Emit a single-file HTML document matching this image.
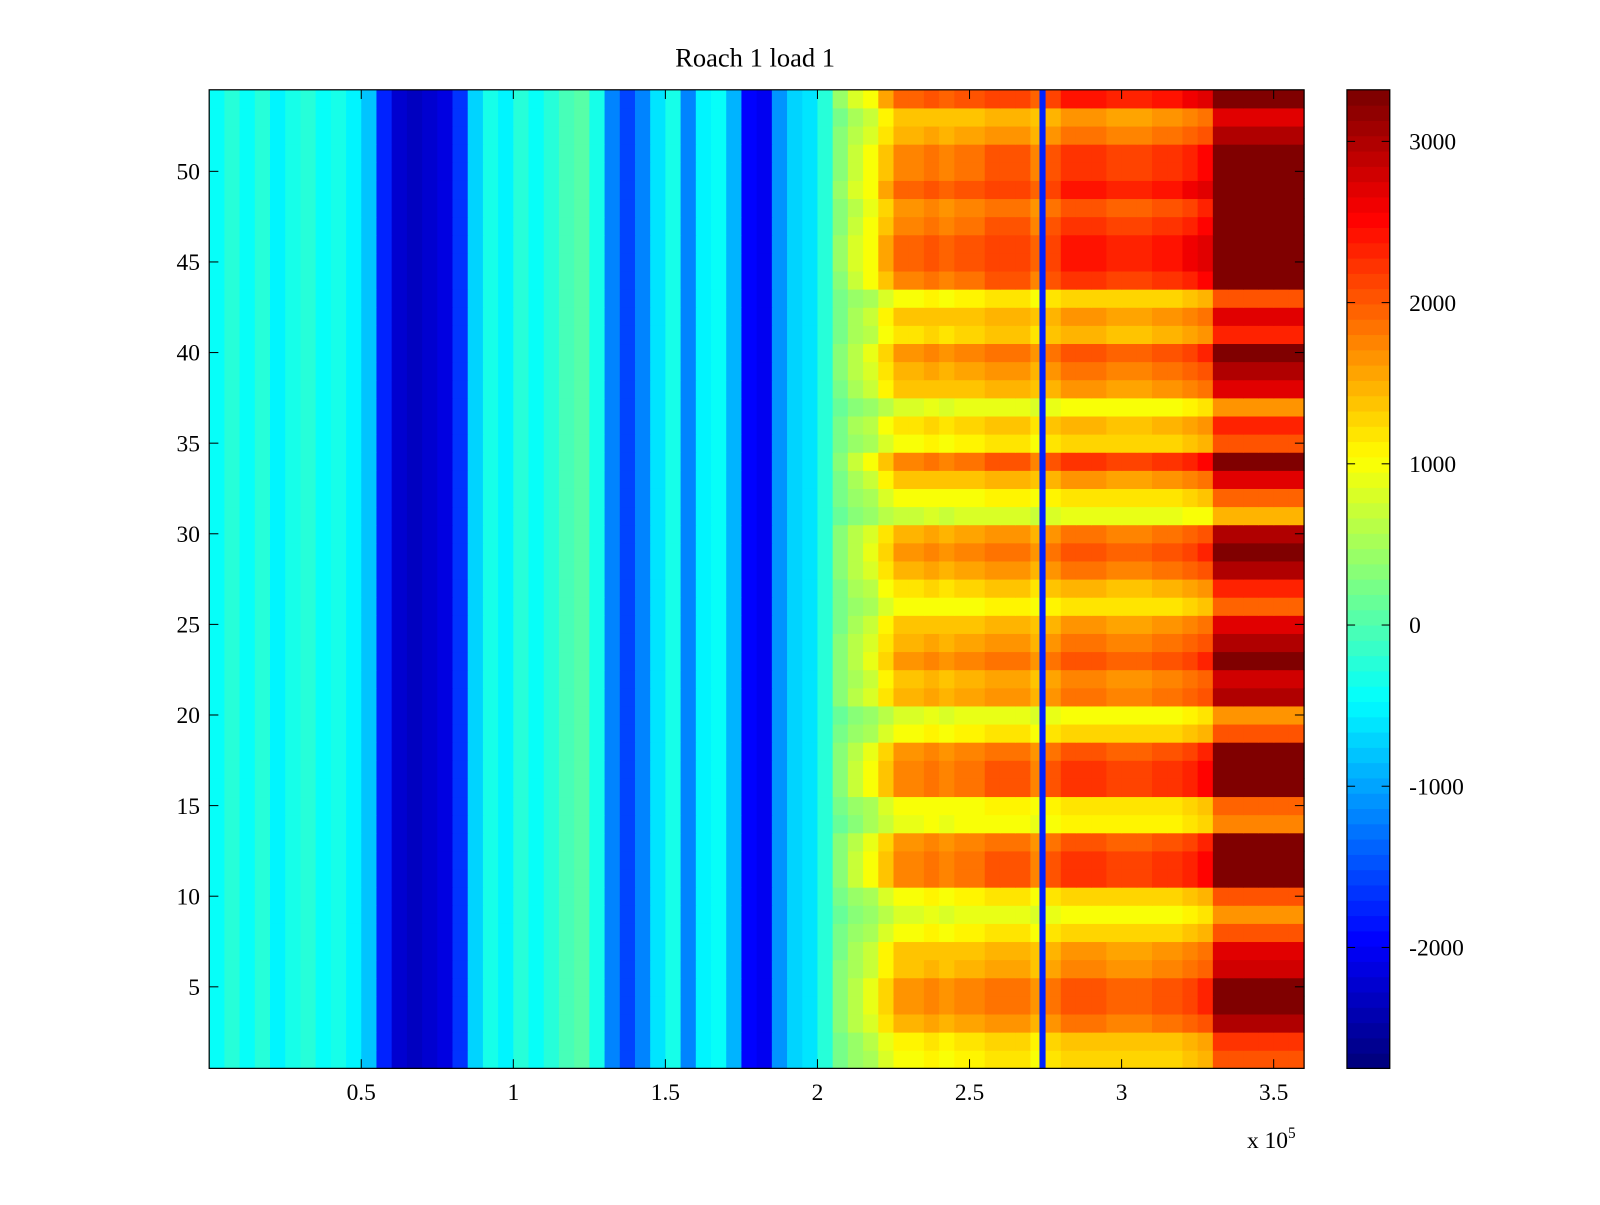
<!DOCTYPE html>
<html><head><meta charset="utf-8"><style>
html,body{margin:0;padding:0;background:#fff;}
svg text{font-family:"Liberation Serif",serif;font-size:23px;fill:#000;}
</style></head><body>
<svg id="chart" width="1600" height="1200" viewBox="0 0 1568 1176">
<rect width="1568" height="1176" fill="#fff"/>
<text x="740" y="65" text-anchor="middle" style="font-size:26px">Roach 1 load 1</text>
<g id="cells"></g>
<rect x="205" y="88" width="1073" height="959" fill="none" stroke="#000" stroke-width="1.2"/>
<g id="xticks"></g>
<g id="yticks"></g>
<text x="1222" y="1125">x 10<tspan dy="-10" font-size="15">5</tspan></text>
<g id="cbar"></g>
</svg>
<script>
// column profile (x in units of 1e5, bins of 0.05 from 0 to 3.6)
const colValues = [-400,-200,-400,-200,-500,-300,-200,-400,-300,-500,-800,
 -1800,-2300,-2400,-2300,-2200,-1700,
 -700,-300,-500,-200,-400,-200,-100,0,-300,-1200,-1600,-1200,-600,-300,-1200,-500,-400,-900,-2000,-2100,-1100,-700,-600,-200,300,600,800,1200,
 1500,1500,1600,1500,1600,1600,1700,1700,1700,
 1500,1700,
 1900,1900,1900,1800,1800,1800,1900,1900,2000,2100,
 3000,3000,3000,3000,3000,3000];
// per-row amplitude for positive region, rows 1..54
const rowAmp = [0.7,0.75,1.0,1.1,1.1,0.95,0.9,0.7,0.55,0.7,1.2,1.2,1.1,0.6,0.65,1.2,1.2,1.1,0.7,0.55,
 1.0,0.95,1.1,1.0,0.9,0.65,0.8,1.0,1.1,1.0,0.5,0.65,0.9,1.2,0.7,0.8,0.55,0.9,1.0,1.1,
 0.8,0.9,0.7,1.2,1.3,1.3,1.2,1.1,1.3,1.2,1.2,1.0,0.9,1.3];
const lineX = [2.74];
const lineValue = [-1800];
const xTicks = [0.5,1,1.5,2,2.5,3,3.5];
const yTicks = [5,10,15,20,25,30,35,40,45,50];
const cTicks = [-2000,-1000,0,1000,2000,3000];

const NS="http://www.w3.org/2000/svg";
const X0=205,X1=1278,Y0=88,Y1=1047,XMIN=0,XMAX=3.6,YMIN=0.5,YMAX=54.5,CMIN=-2750,CMAX=3320;
const xs=v=>X0+(v-XMIN)/(XMAX-XMIN)*(X1-X0);
const ys=v=>Y1-(v-YMIN)/(YMAX-YMIN)*(Y1-Y0);
function jet(t){t=Math.max(0,Math.min(1,t));t=Math.round(t*63)/63;
 const f=x=>Math.max(0,Math.min(1,1.5-Math.abs(4*t-x)));
 return `rgb(${Math.round(255*f(3))},${Math.round(255*f(2))},${Math.round(255*f(1))})`;}
const cv=v=>jet((v-CMIN)/(CMAX-CMIN));
function mk(tag,attrs,parent){const e=document.createElementNS(NS,tag);for(const k in attrs)e.setAttribute(k,attrs[k]);parent.appendChild(e);return e;}
const cells=document.getElementById('cells');
const bw=(XMAX-XMIN)/colValues.length;
rowAmp.forEach((a,r)=>{
 colValues.forEach((v,c)=>{
  const val=v>0?Math.min(CMAX,v*a):v;
  const x=xs(c*bw),w=xs((c+1)*bw)-x;
  const y=ys(r+1.5),h=ys(r+0.5)-y;
  const el=mk('rect',{x:x.toFixed(2),y:y.toFixed(2),width:(w+0.5).toFixed(2),height:(h+0.5).toFixed(2),fill:cv(val)},cells);
  
  
 });
});
lineX.forEach((lx,i)=>{
 const el=mk('rect',{x:xs(lx)-3,y:Y0,width:6,height:Y1-Y0,fill:cv(lineValue[i])},cells);
 
 
});
const xt=document.getElementById('xticks');
xTicks.forEach(t=>{const x=xs(t);
 mk('line',{x1:x,x2:x,y1:Y1,y2:Y1-9,stroke:'#000'},xt);mk('line',{x1:x,x2:x,y1:Y0,y2:Y0+9,stroke:'#000'},xt);
 const tx=mk('text',{x:x,y:1078,'text-anchor':'middle'},xt);tx.textContent=t;
 
 });
const yt=document.getElementById('yticks');
yTicks.forEach(t=>{const y=ys(t);
 mk('line',{x1:X0,x2:X0+9,y1:y,y2:y,stroke:'#000'},yt);mk('line',{x1:X1,x2:X1-9,y1:y,y2:y,stroke:'#000'},yt);
 const tx=mk('text',{x:196,y:y+8,'text-anchor':'end'},yt);tx.textContent=t;
 
 });
const cb=document.getElementById('cbar');
const CX=1320,CW=42;
for(let i=0;i<64;i++){const y0=Y1-(i+1)/64*(Y1-Y0);
 const el=mk('rect',{x:CX,y:y0.toFixed(2),width:CW,height:((Y1-Y0)/64+0.6).toFixed(2),fill:jet(i/63)},cb);
 
 }
mk('rect',{x:CX,y:Y0,width:CW,height:Y1-Y0,fill:'none',stroke:'#000','stroke-width':1.2},cb);
const cyS=v=>Y1-(v-CMIN)/(CMAX-CMIN)*(Y1-Y0);
cTicks.forEach(t=>{const y=cyS(t);
 mk('line',{x1:CX,x2:CX+8,y1:y,y2:y,stroke:'#000'},cb);mk('line',{x1:CX+CW,x2:CX+CW-8,y1:y,y2:y,stroke:'#000'},cb);
 const tx=mk('text',{x:1381,y:y+8},cb);tx.textContent=t;
 
 });
</script>
</body></html>
